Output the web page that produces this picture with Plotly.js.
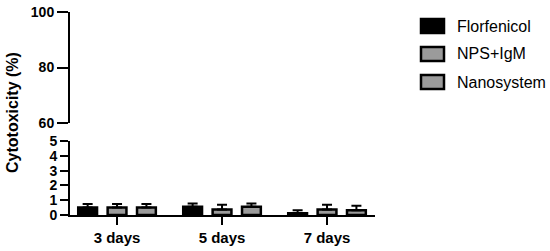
<!DOCTYPE html>
<html>
<head>
<meta charset="utf-8">
<script src="https://cdn.plot.ly/plotly-3.0.1.min.js"></script>
<style>
  html, body { margin: 0; padding: 0; background: #fff; }
  #plot { width: 550px; height: 251px; }
</style>
</head>
<body>
<div id="plot"></div>
<script>
// data
const categories = ["3 days", "5 days", "7 days"];
const seriesNames = ["Florfenicol", "NPS+IgM", "Nanosystem"];
const florfenicol = [0.50, 0.55, 0.12];
const florfenicolErr = [0.25, 0.22, 0.20];
const npsIgm = [0.50, 0.38, 0.38];
const npsIgmErr = [0.25, 0.32, 0.32];
const nanosystem = [0.50, 0.55, 0.32];
const nanosystemErr = [0.25, 0.22, 0.31];
const fills = ["#000000", "#9b9b9b", "#9b9b9b"];

const FONT = "Liberation Sans, Arial, sans-serif";

// plot area in pixels
const W = 550, H = 251;
const M = { l: 70, r: 175, t: 12, b: 36 };
const plotW = W - M.l - M.r;
const plotH = H - M.t - M.b;
const px = (x) => (x - M.l) / plotW;
const py = (y) => (H - M.b - y) / plotH;

function barTrace(name, values, errs, color) {
  return {
    type: "bar",
    name: name,
    x: categories,
    y: values,
    xaxis: "x",
    yaxis: "y",
    marker: { color: color, line: { color: "#000", width: 2.5 } },
    error_y: {
      type: "data",
      symmetric: false,
      array: errs,
      arrayminus: values.map(() => 0),
      color: "#000",
      thickness: 2,
      width: 5,
    },
    showlegend: false,
    hoverinfo: "skip",
  };
}

const traces = [
  barTrace(seriesNames[0], florfenicol, florfenicolErr, fills[0]),
  barTrace(seriesNames[1], npsIgm, npsIgmErr, fills[1]),
  barTrace(seriesNames[2], nanosystem, nanosystemErr, fills[2]),
  // empty trace so the upper axis gets drawn
  { type: "scatter", x: [], y: [], xaxis: "x", yaxis: "y2", showlegend: false },
];

// hand-made legend (boxes + labels)
const shapes = [];
const annotations = [];
seriesNames.forEach((name, i) => {
  const cy = 26 + i * 28;
  shapes.push({
    type: "rect", xref: "paper", yref: "paper",
    x0: px(421), x1: px(444), y0: py(cy - 7), y1: py(cy + 7),
    fillcolor: fills[i], line: { color: "#000", width: 2.5 },
  });
  annotations.push({
    xref: "paper", yref: "paper", x: px(455), y: py(cy),
    xanchor: "left", yanchor: "middle", showarrow: false,
    text: name, font: { family: FONT, size: 16, color: "#000" },
  });
});

// y title spans both axis pieces
annotations.push({
  xref: "paper", yref: "paper", x: px(13), y: py(113),
  xanchor: "center", yanchor: "middle", showarrow: false, textangle: -90,
  text: "Cytotoxicity (%)",
  font: { family: FONT, size: 16, color: "#000", weight: "bold" },
});

const tickFont = { family: FONT, size: 14, color: "#000", weight: "bold" };

const layout = {
  width: W,
  height: H,
  margin: M,
  paper_bgcolor: "#fff",
  plot_bgcolor: "#fff",
  font: { family: FONT, color: "#000" },
  barmode: "group",
  bargap: 0.16,
  bargroupgap: 0.36,
  showlegend: false,
  xaxis: {
    type: "category",
    range: [-0.448, 2.457],
    showline: true, linecolor: "#000", linewidth: 2,
    ticks: "outside", ticklen: 8, tickwidth: 2, tickcolor: "#000",
    tickfont: { family: FONT, size: 15, color: "#000", weight: "bold" },
    showgrid: false, zeroline: false, fixedrange: true,
  },
  yaxis: {
    domain: [0, py(141)],
    range: [0, 5],
    tick0: 0, dtick: 1,
    showline: true, linecolor: "#000", linewidth: 2,
    ticks: "outside", ticklen: 8, tickwidth: 2, tickcolor: "#000",
    tickfont: tickFont,
    showgrid: false, zeroline: false, fixedrange: true,
  },
  yaxis2: {
    domain: [py(123), 1],
    range: [60, 100],
    tick0: 60, dtick: 20,
    anchor: "x",
    showline: true, linecolor: "#000", linewidth: 2,
    ticks: "outside", ticklen: 11, tickwidth: 2, tickcolor: "#000",
    tickfont: tickFont,
    showgrid: false, zeroline: false, fixedrange: true,
  },
  shapes: shapes,
  annotations: annotations,
};

Plotly.newPlot("plot", traces, layout, { displayModeBar: false, staticPlot: true });
</script>
</body>
</html>
